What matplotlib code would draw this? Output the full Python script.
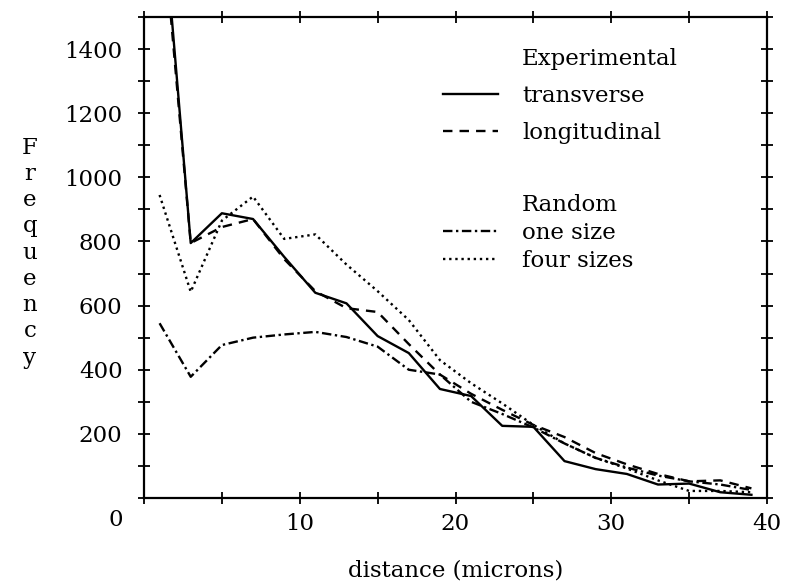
import matplotlib
matplotlib.use("Agg")
import matplotlib.pyplot as plt
from matplotlib.ticker import MultipleLocator, FuncFormatter
from matplotlib.lines import Line2D

plt.rcParams['font.family'] = ['DejaVu Serif']

# bin centres (microns)
distance = [1, 3, 5, 7, 9, 11, 13, 15, 17, 19, 21, 23, 25, 27, 29, 31, 33, 35, 37, 39]

# experimental
transverse = [1950, 795, 888, 870, 752, 640, 607, 505, 452, 340,
              318, 225, 222, 115, 90, 75, 42, 45, 18, 10]
longitudinal = [1900, 795, 845, 870, 745, 645, 592, 580, 480, 385,
                325, 275, 228, 190, 140, 105, 75, 52, 55, 30]

# random
one_size = [545, 378, 477, 500, 510, 518, 502, 472, 400, 385,
            300, 262, 220, 170, 125, 95, 70, 52, 42, 25]
four_sizes = [945, 643, 865, 940, 808, 822, 728, 645, 555, 430,
              358, 295, 228, 170, 125, 92, 55, 22, 22, 18]

fs = 16.5

fig = plt.figure(figsize=(7.93, 5.87), dpi=100)
ax = fig.add_axes([144 / 793, 89 / 587, 623 / 793, 481 / 587])

lw = 1.7
l_tr, = ax.plot(distance, transverse, color='black', lw=lw)
l_lo, = ax.plot(distance, longitudinal, color='black', lw=lw, dashes=(4, 3))
l_one, = ax.plot(distance, one_size, color='black', lw=lw, dashes=(4, 1.5, 1, 1.5))
l_four, = ax.plot(distance, four_sizes, color='black', lw=lw, dashes=(1, 1.6))

ax.set_xlim(0, 40)
ax.set_ylim(0, 1500)

ax.xaxis.set_major_locator(MultipleLocator(5))
ax.yaxis.set_major_locator(MultipleLocator(100))
ax.xaxis.set_major_formatter(FuncFormatter(lambda v, p: f"{v:.0f}" if v % 10 == 0 and v > 0 else ""))
ax.yaxis.set_major_formatter(FuncFormatter(lambda v, p: f"{v:.0f}" if v % 200 == 0 and v > 0 else ""))
ax.tick_params(direction='inout', length=9, width=1.3, labelsize=fs,
               top=True, right=True, color='black')
ax.tick_params(axis='x', pad=6)
ax.tick_params(axis='y', pad=11)
for s in ax.spines.values():
    s.set_linewidth(1.6)

# shared origin label
ax.annotate('0', xy=(0, 0), xytext=(-20, -16), textcoords='offset points',
            ha='center', va='center', fontsize=fs)

ax.set_xlabel('distance (microns)', fontsize=fs, va='center')
ax.xaxis.set_label_coords(0.5, -0.15)
ax.set_ylabel('\n'.join('Frequency'), rotation=0, fontsize=fs,
              ha='center', va='center', linespacing=1.25)
ax.yaxis.set_label_coords(-0.183, 0.51)

blank = Line2D([], [], linestyle='none')
leg1 = ax.legend([blank, l_tr, l_lo], ['Experimental', 'transverse', 'longitudinal'],
                 loc='upper left', bbox_to_anchor=(0.48, 0.935), frameon=False,
                 fontsize=fs, handlelength=2.4, handletextpad=1.05,
                 borderpad=0, borderaxespad=0, labelspacing=0.64)
ax.add_artist(leg1)
ax.legend([blank, l_one, l_four], ['Random', 'one size', 'four sizes'],
          loc='upper left', bbox_to_anchor=(0.48, 0.633), frameon=False,
          fontsize=fs, handlelength=2.4, handletextpad=1.05,
          borderpad=0, borderaxespad=0, labelspacing=0.28)

fig.savefig('out.png', dpi=100)
